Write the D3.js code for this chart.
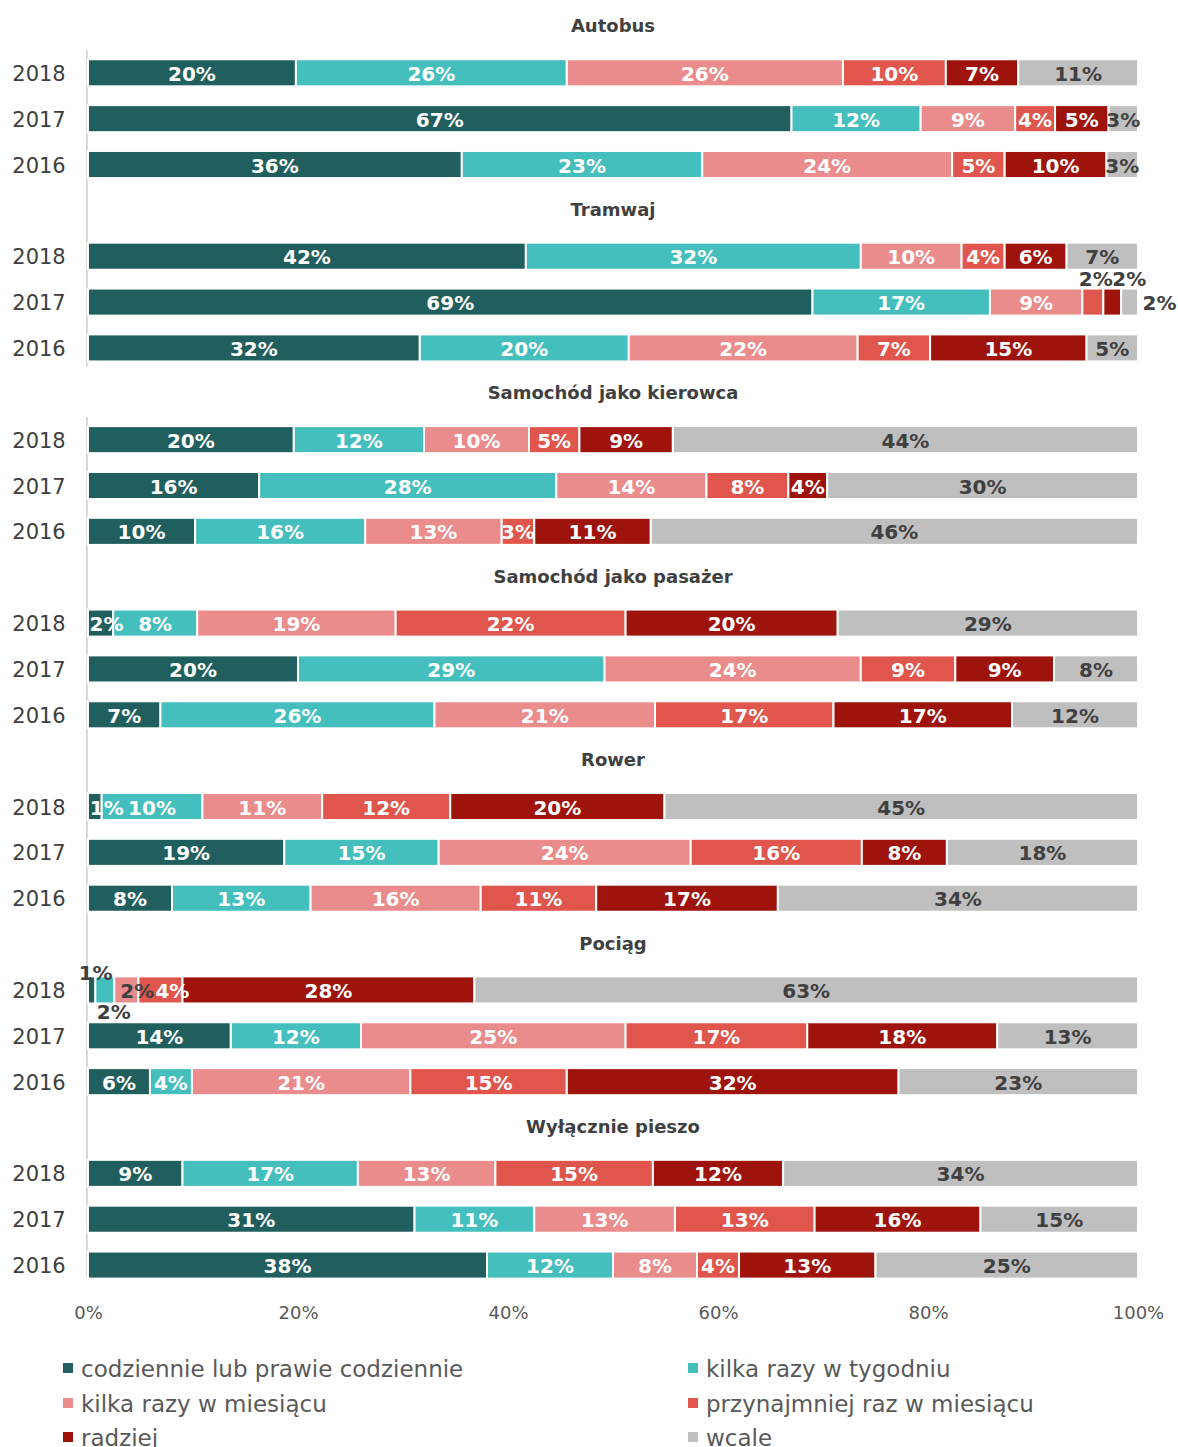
<!DOCTYPE html>
<meta charset="utf-8">
<style>
body { margin: 0; background: #fff; }
text { font-family: "DejaVu Sans", sans-serif; }
</style>
<body>
  <div id="chart"></div>
</body>
<script src="https://d3js.org/d3.v7.min.js"></script>
<script>

var width = 1178, height = 1447;

var groups = ["Autobus", "Tramwaj", "Samochód jako kierowca", "Samochód jako pasażer", "Rower", "Pociąg", "Wyłącznie pieszo"];
var years = ["2018", "2017", "2016"];
var keys = ["codziennie lub prawie codziennie", "kilka razy w tygodniu", "kilka razy w miesiącu",
            "przynajmniej raz w miesiącu", "radziej", "wcale"];
var colors = ["#215f5e", "#44bfbd", "#ea8c8b", "#e0564d", "#9e130c", "#bfbfbf"];

// shares per year (2018, 2017, 2016), in the order of keys
var autobus   = [[19.8, 25.8, 26.3, 9.8, 6.9, 11.4], [67.0, 12.3, 9.0, 3.8, 5.1, 2.8], [35.6, 22.9, 23.8, 5.0, 9.7, 3.0]];
var tramwaj   = [[41.7, 31.9, 9.6, 4.1, 5.9, 6.8], [69.0, 16.9, 8.8, 2.0, 1.7, 1.6], [31.6, 19.9, 21.8, 6.9, 14.9, 4.9]];
var kierowca  = [[19.6, 12.4, 10.0, 4.8, 8.9, 44.3], [16.3, 28.3, 14.3, 7.8, 3.7, 29.6], [10.2, 16.2, 13.0, 3.1, 11.1, 46.4]];
var pasazer   = [[2.4, 8.0, 18.9, 21.9, 20.2, 28.6], [20.0, 29.2, 24.4, 9.0, 9.4, 8.0], [6.9, 26.1, 21.0, 17.0, 17.0, 12.0]];
var rower     = [[1.3, 9.6, 11.4, 12.2, 20.4, 45.1], [18.7, 14.7, 24.0, 16.3, 8.1, 18.2], [8.0, 13.2, 16.2, 11.0, 17.3, 34.3]];
var pociag    = [[0.7, 1.8, 2.3, 4.2, 27.8, 63.2], [13.6, 12.4, 25.2, 17.3, 18.1, 13.4], [5.9, 4.0, 20.8, 14.9, 31.6, 22.8]];
var pieszo    = [[9.0, 16.7, 13.1, 15.0, 12.4, 33.8], [31.1, 11.4, 13.4, 13.3, 15.8, 15.0], [38.0, 12.0, 8.0, 4.0, 13.0, 25.0]];
var values = [autobus, tramwaj, kierowca, pasazer, rower, pociag, pieszo];

var xTicks = [0, 20, 40, 60, 80, 100];

// labels of tiny segments that were moved by hand in the original
var nudges = {
  "Tramwaj|2017|3": {dx: 3, dy: -24, dark: true},
  "Tramwaj|2017|4": {dx: 17, dy: -24, dark: true},
  "Tramwaj|2017|5": {dx: 30, dy: 0, dark: true},
  "Pociąg|2018|0": {dx: 4, dy: -18, dark: true},
  "Pociąg|2018|1": {dx: 9, dy: 21, dark: true},
  "Pociąg|2018|2": {dx: 11, dy: 0, dark: true},
  "Pociąg|2018|3": {dx: 12, dy: 0},
  "Samochód jako pasażer|2018|0": {dx: 6, dy: 0},
  "Rower|2018|0": {dx: 12, dy: 0}
};

var rows = [];
groups.forEach(function(g, gi) {
  years.forEach(function(y, yi) {
    var r = {group: g, year: y};
    keys.forEach(function(k, ki) { r[k] = values[gi][yi][ki]; });
    rows.push(r);
  });
});

var series = d3.stack().keys(keys)(rows);

var slots = [];
groups.forEach(function(g) {
  slots.push("t|" + g);
  years.forEach(function(y) { slots.push(g + "|" + y); });
});

var x = d3.scaleLinear([0, 100], [88, 1138]);
var y = d3.scaleBand(slots, [4, 1288]).paddingInner(0.41).paddingOuter(0.205);
var color = d3.scaleOrdinal(keys, colors);

var svg = d3.select("#chart").append("svg")
    .attr("width", width)
    .attr("height", height);

// left axis line, in two pieces as in the original
var axisParts = [
  {from: "Autobus|2018", to: "Tramwaj|2016", end: 5},
  {from: "Samochód jako kierowca|2018", to: "Wyłącznie pieszo|2016", end: -1}
];
svg.selectAll(".vline")
  .data(axisParts)
  .join("line")
    .attr("x1", 87).attr("x2", 87)
    .attr("y1", d => y(d.from) - 9)
    .attr("y2", d => y(d.to) + y.bandwidth() + d.end)
    .attr("stroke", "#d9d9d9")
    .attr("stroke-width", 2);

// group titles
svg.selectAll(".title")
  .data(groups)
  .join("text")
    .attr("x", 613)
    .attr("y", g => y("t|" + g) + y.bandwidth() / 2 - 1)
    .attr("text-anchor", "middle")
    .attr("dominant-baseline", "central")
    .style("font-size", "18px")
    .style("font-weight", "bold")
    .style("fill", "#404040")
    .text(g => g);

// year labels
svg.selectAll(".year")
  .data(rows)
  .join("text")
    .attr("x", 39)
    .attr("y", d => y(d.group + "|" + d.year) + y.bandwidth() / 2 + 1)
    .attr("text-anchor", "middle")
    .attr("dominant-baseline", "central")
    .style("font-size", "21px")
    .style("fill", "#404040")
    .text(d => d.year);

var layers = svg.append("g")
  .selectAll("g")
  .data(series)
  .join("g")
    .style("fill", d => color(d.key));

layers.selectAll("rect")
  .data(d => d)
  .join("rect")
    .attr("x", d => x(d[0]))
    .attr("y", d => y(d.data.group + "|" + d.data.year))
    .attr("width", d => x(d[1]) - x(d[0]))
    .attr("height", y.bandwidth())
    .attr("stroke", "#fff")
    .attr("stroke-width", 2);

// value labels go on top of every bar
var labels = [];
series.forEach(function(s, i) {
  s.forEach(function(seg) { labels.push({s: seg, i: i}); });
});

svg.append("g")
  .selectAll("text")
  .data(labels)
  .join("text")
    .each(function(d) {
      var n = nudges[d.s.data.group + "|" + d.s.data.year + "|" + d.i] || {dx: 0, dy: 0};
      var dark = n.dark || d.i === 5;
      d3.select(this)
        .attr("x", (x(d.s[0]) + x(d.s[1])) / 2 + n.dx)
        .attr("y", y(d.s.data.group + "|" + d.s.data.year) + y.bandwidth() / 2 + 1 + n.dy)
        .style("fill", dark ? "#404040" : "#fff");
    })
    .attr("text-anchor", "middle")
    .attr("dominant-baseline", "central")
    .style("font-size", "20px")
    .style("font-weight", "bold")
    .text(d => d3.format(".0f")(d.s[1] - d.s[0]) + "%");

// bottom axis
var xAxis = d3.axisBottom(x)
    .tickValues(xTicks)
    .tickFormat(d => d + "%")
    .tickSize(0)
    .tickPadding(6);

var ax = svg.append("g")
    .attr("transform", "translate(0,1300)")
    .call(xAxis);
ax.select(".domain").remove();
ax.selectAll("text")
    .style("font-family", "DejaVu Sans")
    .style("font-size", "18px")
    .style("fill", "#595959");

// legend, two columns
var legend = svg.selectAll(".leg")
  .data(keys)
  .join("g")
    .attr("transform", (d, i) => "translate(" + (i % 2 === 0 ? 63 : 688) + "," + [1368, 1403, 1437][Math.floor(i / 2)] + ")");

legend.append("rect")
    .attr("x", 0).attr("y", -5)
    .attr("width", 10).attr("height", 10)
    .style("fill", d => color(d));

legend.append("text")
    .attr("x", 18)
    .attr("y", 1)
    .attr("dominant-baseline", "central")
    .style("font-size", "23px")
    .style("fill", "#595959")
    .text(d => d);

</script>
